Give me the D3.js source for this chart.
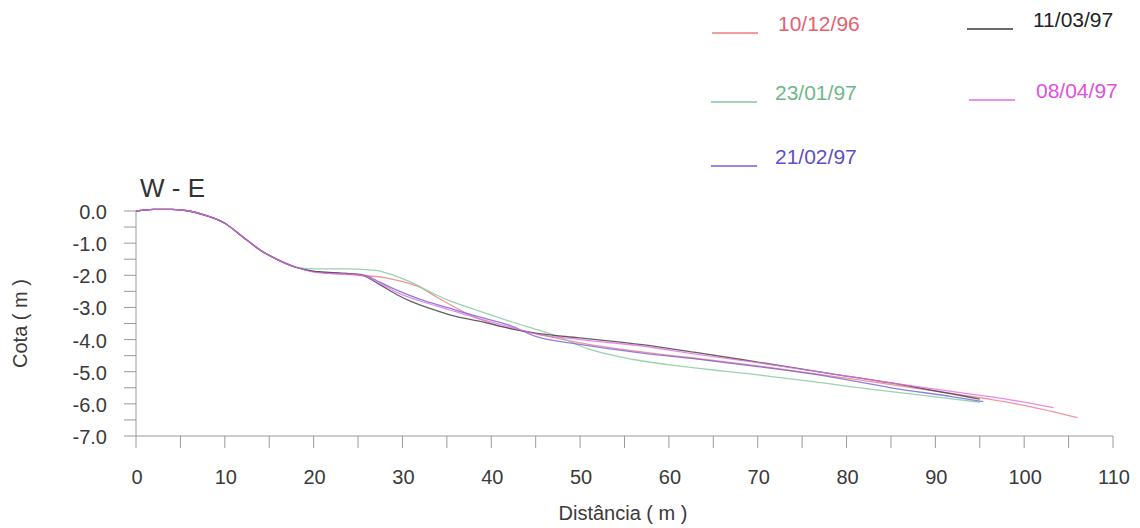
<!DOCTYPE html>
<html>
<head>
<meta charset="utf-8">
<script src="https://cdn.jsdelivr.net/npm/d3@7"></script>
<style>
  body { margin: 0; background: #fff; }
  svg { font-family: "Liberation Sans", Arial, sans-serif; }
  .axis line { stroke: #9a9a9a; }
  .axis text { fill: #3a3a3a; font-size: 20px; }
</style>
</head>
<body>
<div id="chart"></div>
<script>
// series: survey dates
var dates = ["10/12/96", "23/01/97", "21/02/97", "11/03/97", "08/04/97"]
var colors = ["#f07884", "#80c89e", "#6f62d6", "#3a3a3a", "#e46ce4"]
var legendText = ["#e8606e", "#6cb88a", "#5d50c8", "#222222", "#e050e0"]

// common upper beach, 0-18 m
var startX = [0, 2, 4, 6, 8, 10, 12, 14, 16, 18]
var startY = [0, 0.05, 0.05, 0, -0.15, -0.38, -0.8, -1.22, -1.52, -1.75]

var redX = [20, 22, 25, 28, 30, 32, 34, 37, 40, 44, 50, 56, 62, 70, 80, 90, 100, 106]
var redY = [-1.88, -1.95, -2.0, -2.07, -2.2, -2.38, -2.7, -3.15, -3.5, -3.75, -4.1, -4.35, -4.55, -4.82, -5.2, -5.6, -6.05, -6.43]

var greenX = [20, 24, 27, 29, 31, 33, 35, 38, 41, 44, 47, 51, 56, 62, 70, 76, 80, 86, 95]
var greenY = [-1.8, -1.8, -1.85, -2.0, -2.22, -2.5, -2.76, -3.05, -3.33, -3.6, -3.85, -4.3, -4.62, -4.85, -5.1, -5.3, -5.45, -5.65, -5.95]

var blueX = [20, 25.5, 27.5, 29.5, 32, 35, 38, 42, 45, 50, 57, 63, 70, 78, 85, 92, 95.4]
var blueY = [-1.88, -1.98, -2.22, -2.48, -2.75, -3.0, -3.25, -3.55, -3.9, -4.15, -4.42, -4.6, -4.84, -5.15, -5.5, -5.78, -5.93]

var blackX = [20, 23, 25.5, 27.5, 29.5, 31, 33, 36, 39, 42, 45, 50, 57, 63, 70, 78, 85, 92, 95]
var blackY = [-1.88, -1.93, -2.0, -2.3, -2.62, -2.82, -3.02, -3.28, -3.45, -3.65, -3.8, -3.95, -4.16, -4.4, -4.7, -5.05, -5.35, -5.7, -5.85]

var magentaX = [20, 25.5, 27.5, 29.5, 32, 35, 38, 42, 45, 50, 57, 63, 70, 78, 85, 92, 98, 103.3]
var magentaY = [-1.9, -2.0, -2.25, -2.55, -2.8, -3.05, -3.3, -3.6, -3.82, -4.0, -4.2, -4.45, -4.72, -5.05, -5.35, -5.62, -5.85, -6.12]

var xTicks = [0, 10, 20, 30, 40, 50, 60, 70, 80, 90, 100, 110]
var yTicks = [0, -1, -2, -3, -4, -5, -6, -7]

var seriesX = [redX, greenX, blueX, blackX, magentaX]
var seriesY = [redY, greenY, blueY, blackY, magentaY]

var width = 1140, height = 528
var svg = d3.select("#chart").append("svg")
  .attr("width", width)
  .attr("height", height)

var x = d3.scaleLinear().domain([0, 110]).range([136, 1113])
var y = d3.scaleLinear().domain([-7, 0]).range([436, 211])

// x axis, ticks every 5 m hanging below
var xAxis = svg.append("g").attr("class", "axis")
  .attr("transform", "translate(0," + y(-7) + ")")
xAxis.append("line")
  .attr("x1", x(0)).attr("x2", x(110))
d3.range(0, 111, 5).forEach(function(v) {
  xAxis.append("line")
    .attr("x1", x(v)).attr("x2", x(v))
    .attr("y1", 0).attr("y2", 12)
})
xAxis.selectAll("text.tick").data(xTicks).enter().append("text")
  .attr("x", function(d) { return x(d) + 1 })
  .attr("y", 48)
  .attr("text-anchor", "middle")
  .text(function(d) { return d })

// y axis, ticks every 0.5 m pointing left
var yAxis = svg.append("g").attr("class", "axis")
yAxis.append("line")
  .attr("x1", x(0)).attr("x2", x(0))
  .attr("y1", y(0)).attr("y2", y(-7))
d3.range(0, 15).forEach(function(i) {
  var v = -i * 0.5
  yAxis.append("line")
    .attr("x1", x(0) - 12).attr("x2", x(0))
    .attr("y1", y(v)).attr("y2", y(v))
})
yAxis.selectAll("text.tick").data(yTicks).enter().append("text")
  .attr("x", 107)
  .attr("y", function(d) { return y(d) + 8 })
  .attr("text-anchor", "end")
  .text(function(d) { return (d < 0 ? "-" : "") + Math.abs(d).toFixed(1) })

// titles
svg.append("text")
  .attr("x", 140).attr("y", 197)
  .attr("fill", "#333").attr("font-size", 26)
  .text("W - E")

svg.append("text")
  .attr("transform", "translate(27," + y(-3.5) + ") rotate(-90)")
  .attr("text-anchor", "middle")
  .attr("fill", "#3a3a3a").attr("font-size", 20)
  .text("Cota ( m )")

svg.append("text")
  .attr("x", 623).attr("y", 520)
  .attr("text-anchor", "middle")
  .attr("fill", "#3a3a3a").attr("font-size", 20)
  .text("Distância ( m )")

// profiles
var line = d3.line()
  .x(function(d) { return x(d[0]) })
  .y(function(d) { return y(d[1]) })
  .curve(d3.curveMonotoneX)

var start = startX.map(function(v, i) { return [v, startY[i]] })

seriesX.forEach(function(xs, k) {
  var pts = start.concat(xs.map(function(v, i) { return [v, seriesY[k][i]] }))
  svg.append("path")
    .attr("d", line(pts))
    .attr("fill", "none")
    .attr("stroke", colors[k])
    .attr("stroke-width", 1.3)
    .attr("opacity", 0.8)
})

// legend: two columns (line x, line y, text x)
var legendPos = [[712, 33, 778], [711, 102, 775], [711, 166, 775], [967, 29, 1033], [969, 100, 1036]]
dates.forEach(function(d, i) {
  var p = legendPos[i]
  svg.append("line")
    .attr("x1", p[0]).attr("x2", p[0] + 46)
    .attr("y1", p[1]).attr("y2", p[1])
    .attr("stroke", colors[i]).attr("stroke-width", 1.5)
  svg.append("text")
    .attr("x", p[2]).attr("y", p[1] - 2)
    .attr("fill", legendText[i]).attr("font-size", 21)
    .text(d)
})
</script>
</body>
</html>
